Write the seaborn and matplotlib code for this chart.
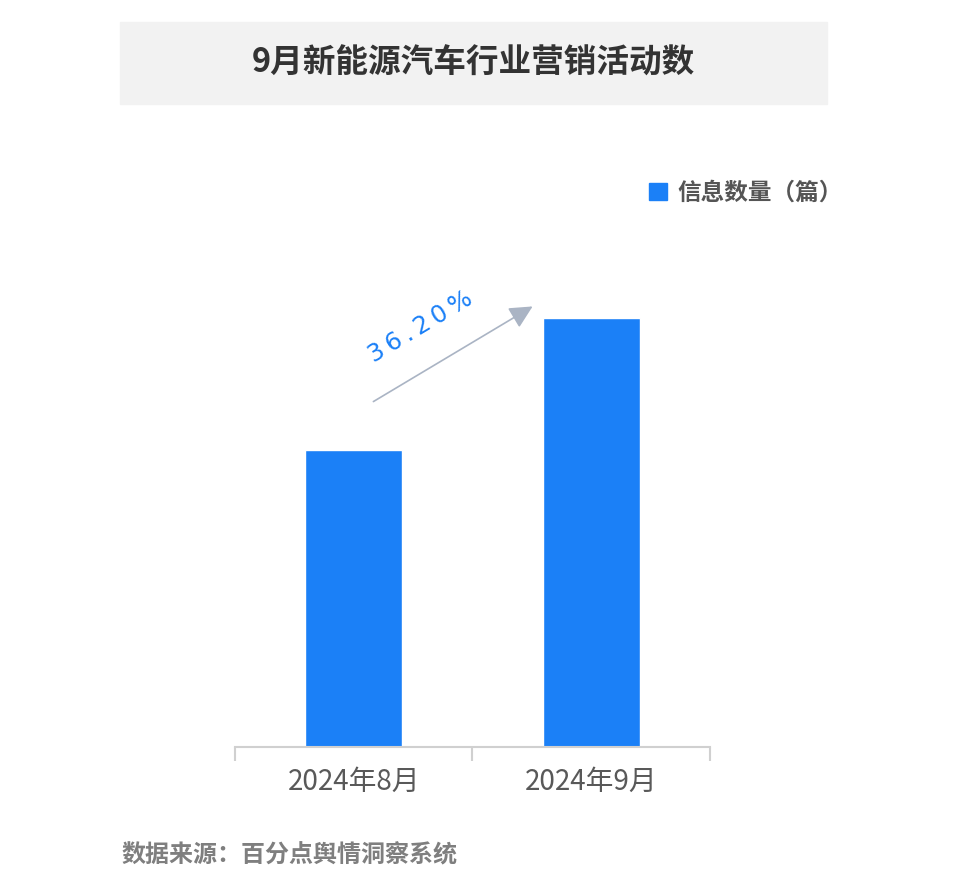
import numpy as np
import pandas as pd
import matplotlib
matplotlib.use("Agg")
import matplotlib.pyplot as plt
import seaborn as sns
from matplotlib.patches import Rectangle, Patch, FancyArrowPatch

# ------------------------------
# DATA
# ------------------------------
months = ["2024年8月", "2024年9月"]
counts = [297, 429]
growth_label = "36.20%"
series_name = "信息数量（篇）"
title = "9月新能源汽车行业营销活动数"
source = "数据来源：百分点舆情洞察系统"

# ------------------------------
# STYLE
# ------------------------------
sns.set_theme(style="white")
plt.rcParams["font.family"] = ["Noto Sans CJK SC", "DejaVu Sans"]

BAR = "#1b80f7"
W, H = 962, 889

fig = plt.figure(figsize=(W / 100, H / 100), dpi=100)

# title box
fig.patches.append(Rectangle((120 / W, 1 - 104 / H), 707 / W, 82 / H,
                             transform=fig.transFigure, color="#f2f2f2", zorder=0))
fig.text(473 / W, 1 - 63 / H, title, ha="center", va="center",
         fontsize=23.5, fontweight="bold", color="#333333")

# ------------------------------
# BARS
# ------------------------------
ax = fig.add_axes([235 / W, 1 - 747 / H, 475 / W, 517 / H])
df = pd.DataFrame({"month": months, "count": counts})
sns.barplot(data=df, x="month", y="count", color=BAR, width=0.41,
            saturation=1, ax=ax)
ax.set_xlim(-0.5, 1.5)
ax.set_ylim(0, 517)
ax.set_xlabel("")
ax.set_ylabel("")
ax.set_yticks([])
for s in ["top", "right", "left"]:
    ax.spines[s].set_visible(False)
ax.spines["bottom"].set_color("#d0d0d0")
ax.spines["bottom"].set_linewidth(1.5)
ax.tick_params(axis="x", which="major", length=0, pad=14,
               labelsize=20, labelcolor="#595959")
ax.set_xticks([-0.5, 0.5, 1.5], minor=True)
ax.tick_params(axis="x", which="minor", bottom=True, length=10, width=1.5,
               color="#d0d0d0", direction="out")

# growth arrow
fig.add_artist(FancyArrowPatch(
    (371 / W, 1 - 403 / H), (535 / W, 1 - 305 / H),
    transform=fig.transFigure, arrowstyle="-|>,head_length=14,head_width=7",
    color="#aab4c4", linewidth=1.2, mutation_scale=1))
spaced = "\u2009".join(growth_label)
fig.text(421 / W, 1 - 327 / H, spaced, ha="center", va="center",
         rotation=31, fontsize=17.5, color=BAR, family=["DejaVu Sans"])

# legend
fig.legend(handles=[Patch(color=BAR, label=series_name)],
           loc="center right", bbox_to_anchor=(864 / W, 1 - 193 / H),
           frameon=False, handlelength=0.75, handleheight=0.75,
           handletextpad=0.45,
           prop={"size": 17, "weight": "bold", "family": "Noto Sans CJK SC"},
           labelcolor="#555555")

# source
fig.text(122 / W, 1 - 855 / H, source, ha="left", va="center",
         fontsize=17.3, fontweight="bold", color="#7f7f7f")

fig.savefig("out.png", dpi=100)
